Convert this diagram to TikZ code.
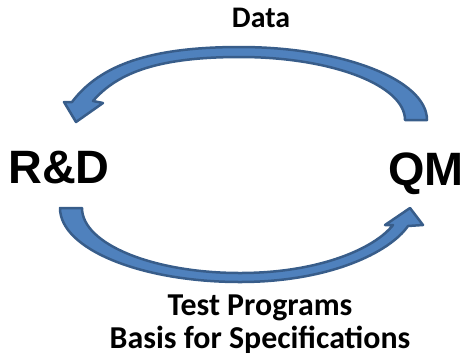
\documentclass[tikz,border=0pt]{standalone}
\usepackage{fontspec}
\setmainfont{Carlito}
\newfontfamily\arialfont{Liberation Sans}
\definecolor{arrowfill}{RGB}{79,129,189}
\definecolor{arrowline}{RGB}{56,93,138}
\tikzset{
  blockarrow/.style={fill=arrowfill,draw=arrowline,line width=2.5bp,line join=round},
  party/.style={font=\arialfont\bfseries\fontsize{47}{50}\selectfont,inner sep=0pt,anchor=base},
  flow/.style={font=\bfseries\fontsize{32}{36}\selectfont,inner sep=0pt,anchor=base}
}
\begin{document}
\begin{tikzpicture}[x=1bp,y=-1bp]
  \useasboundingbox (0,0) rectangle (466,359);
  % data going back from QM to R&D
  \draw[blockarrow] (427,120) .. controls (427,80) and (343,47) .. (240,47)
        .. controls (150,47) and (100,65) .. (72,102) -- (64,102) --
        (76,122) -- (103,103) -- (93,101)
        .. controls (118,72) and (160,57) .. (240,57)
        .. controls (331,57) and (405,85) .. (405,120) -- cycle;
  % programs going from R&D to QM
  \draw[blockarrow] (60,208) .. controls (60,249) and (141,282) .. (240,282)
        .. controls (330,282) and (390,252) .. (408,226) -- (423,225) --
        (410,208) -- (385,225) -- (393,225)
        .. controls (375,248) and (320,273) .. (240,273)
        .. controls (153,273) and (82,244) .. (82,208) -- cycle;
  \node[party] (rd) at (59,183) {R\&D};
  \node[party] (qm) at (426,185) {QM};
  \node[flow,font=\bfseries\fontsize{30}{34}\selectfont] (data) at (261,27) {Data};
  \node[flow] (tests) at (260,315) {Test Programs};
  \node[flow] (basis) at (260,348) {Basis for Specifications};
\end{tikzpicture}
\end{document}
